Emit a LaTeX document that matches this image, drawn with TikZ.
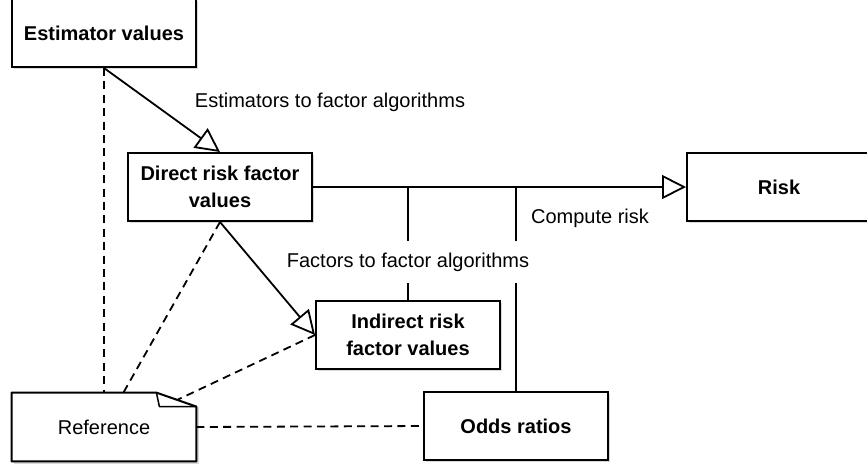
\documentclass[tikz,border=0pt]{standalone}
\usepackage{fontspec}
\setmainfont{Liberation Sans}
\usetikzlibrary{arrows.meta, shadows}

\begin{document}
\begin{tikzpicture}[x = 0.5pt, y = -0.5pt,
    box/.style = {draw, fill = white, line width = 1pt, minimum width = 92pt, minimum height = 34pt,
      inner sep = 0pt, align = center, font = \fontsize{10}{13.5}\selectfont\bfseries,
      drop shadow = {shadow xshift = 1pt, shadow yshift = -1pt, opacity = 0.3}},
    note/.style = {minimum width = 92pt, minimum height = 34pt, inner sep = 0pt,
      font = \fontsize{10}{13.5}\selectfont},
    edgetext/.style = {inner sep = 2pt, font = \fontsize{10}{12}\selectfont},
    link/.style = {line width = 0.9pt},
    inherit/.style = {link, -{Triangle[open, length = 12pt, width = 12pt]}},
    refline/.style = {line width = 0.9pt, dash pattern = on 4pt off 2.7pt}]
  \useasboundingbox (0, 0) rectangle (867, 467);

  \node[box] (est) at (104, 33) {Estimator values};
  \node[box] (direct) at (220, 187) {Direct risk factor\\values};
  \node[box] (risk) at (779, 187) {Risk};
  \node[box] (indirect) at (408, 335) {Indirect risk\\factor values};
  \node[box] (odds) at (516, 426) {Odds ratios};
  \node[note] (ref) at (104, 427) {Reference};

  \draw[black!15, line width = 1pt] ([xshift = 1pt, yshift = -1pt] ref.south west) -- ([xshift = 1pt, yshift = -1pt] ref.south east) -- ([xshift = 1pt, yshift = -7pt] ref.north east);
  \draw[line width = 1pt, line join = round] (ref.south west) -- (ref.north west) -- ([xshift = -20pt] ref.north east) -- ([yshift = -7pt] ref.north east) -- (ref.south east) -- cycle;
  \draw[line width = 0.75pt, line join = round] ([xshift = -20pt] ref.north east) -- ([xshift = -18.5pt, yshift = -7pt] ref.north east) -- ([yshift = -7pt] ref.north east);
  \coordinate (refcorner) at (177, 400);

  \draw[inherit] (est.south) -- (direct.north);
  \draw[inherit] (direct.east) -- (risk.west);
  \draw[link] (indirect.north) -- (indirect.north |- direct.east);
  \draw[link] (odds.north) -- (odds.north |- direct.east);
  \draw[inherit] (direct.south) -- (indirect.west);

  \draw[refline] (est.south) -- (ref.north);
  \draw[refline] (direct.south) -- (ref);
  \draw[refline] (indirect.west) -- (refcorner);
  \draw[refline] (ref.east) -- (odds.west);

  \node[edgetext] (estlabel) at (330, 102) {Estimators to factor algorithms};
  \node[edgetext] (computelabel) at (590, 218) {Compute risk};
  \node[edgetext, fill = white, inner xsep = 3pt, inner ysep = 6pt] (factorlabel) at (408, 262) {Factors to factor algorithms};
\end{tikzpicture}
\end{document}
